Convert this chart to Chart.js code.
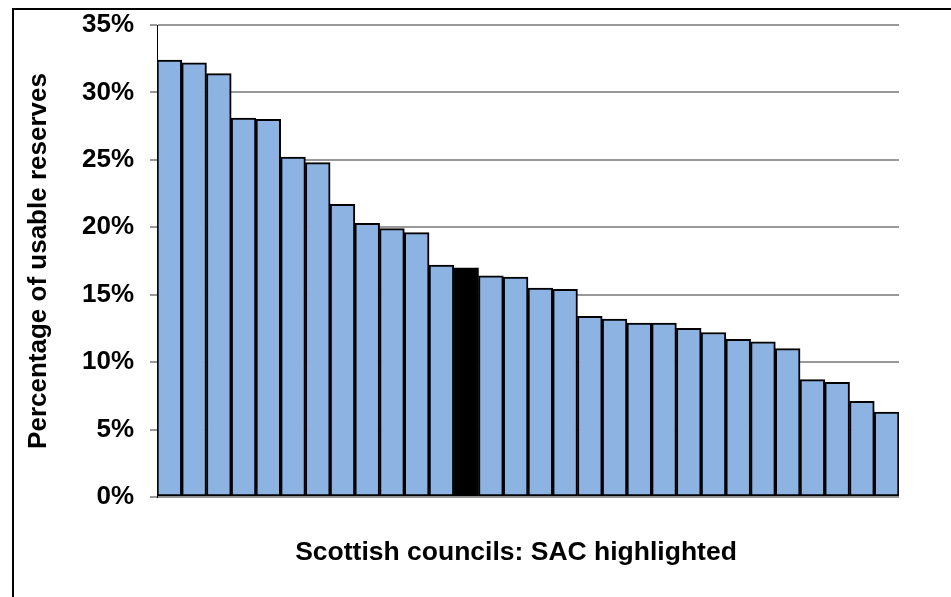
<!DOCTYPE html>
<html>
<head>
<meta charset="utf-8">
<script src="https://cdn.jsdelivr.net/npm/chart.js@4.4.1/dist/chart.umd.min.js"></script>
<style>
  html, body { margin: 0; padding: 0; background: #fff; }
  canvas { display: block; }
</style>
</head>
<body>
<canvas id="myChart" width="951" height="597"></canvas>
<script>
// data
const councils = [
  "C1", "C2", "C3", "C4", "C5", "C6", "C7", "C8", "C9", "C10",
  "C11", "C12", "SAC", "C14", "C15", "C16", "C17", "C18", "C19", "C20",
  "C21", "C22", "C23", "C24", "C25", "C26", "C27", "C28", "C29", "C30",
];
const reserves = [
  32.4, 32.2, 31.4, 28.1, 28.0, 25.2, 24.8, 21.7, 20.3, 19.9,
  19.6, 17.2, 17.0, 16.4, 16.3, 15.5, 15.4, 13.4, 13.2, 12.9,
  12.9, 12.5, 12.2, 11.7, 11.5, 11.0, 8.7, 8.5, 7.1, 6.3,
];
const highlighted = "SAC";
const yTicks = [0, 5, 10, 15, 20, 25, 30, 35];
const xTitle = "Scottish councils: SAC highlighted";

const FONT = "'Liberation Sans', Arial, sans-serif";

// frame lines on top/left edge like the original export
const framePlugin = {
  id: "frame",
  beforeDraw(chart) {
    const ctx = chart.ctx;
    ctx.save();
    ctx.fillStyle = "#fff";
    ctx.fillRect(0, 0, chart.width, chart.height);
    ctx.strokeStyle = "#000";
    ctx.lineWidth = 2;
    ctx.beginPath();
    ctx.moveTo(13, chart.height);
    ctx.lineTo(13, 9);
    ctx.lineTo(chart.width, 9);
    ctx.stroke();
    ctx.restore();
  },
  // x title sits a bit left of the plot centre in the original
  afterDraw(chart) {
    const ctx = chart.ctx;
    ctx.save();
    ctx.fillStyle = "#000";
    ctx.font = "bold 26.5px " + FONT;
    ctx.textAlign = "center";
    ctx.textBaseline = "middle";
    ctx.fillText(xTitle, 516, 553);
    ctx.restore();
  },
};

const config = {
  type: "bar",
  data: {
    labels: councils,
    datasets: [
      {
        label: "Usable reserves",
        data: reserves,
        backgroundColor: councils.map((c) => (c === highlighted ? "#000000" : "#8DB3E2")),
        borderColor: "#000000",
        borderWidth: 2,
        borderSkipped: false,
        barPercentage: 1,
        categoryPercentage: 1,
      },
    ],
  },
  options: {
    responsive: false,
    animation: false,
    layout: { padding: { top: 25, right: 52, left: 0, bottom: 0 } },
    plugins: {
      legend: { display: false },
      tooltip: { enabled: false },
    },
    scales: {
      x: {
        grid: { display: false },
        border: { display: false },
        ticks: { display: false },
        afterFit: (axis) => {
          axis.height = 100;
        },
      },
      y: {
        min: 0,
        max: 35,
        afterBuildTicks: (axis) => {
          axis.ticks = yTicks.map((v) => ({ value: v }));
        },
        grid: {
          color: "#999999",
          lineWidth: 2,
          tickLength: 7,
        },
        border: { display: true, color: "#000", width: 1 },
        ticks: {
          color: "#000",
          padding: 16,
          font: { family: FONT, size: 26, weight: "bold" },
          callback: (value) => value + "%",
        },
        title: {
          display: true,
          text: "Percentage of usable reserves",
          color: "#000",
          font: { family: FONT, size: 26, weight: "bold" },
          padding: { top: 23, bottom: 0 },
        },
        afterFit: (axis) => {
          axis.width = 157;
          axis.paddingTop = 0;
          axis.paddingBottom = 0;
        },
      },
    },
  },
  plugins: [framePlugin],
};

const myChart = new Chart(document.getElementById("myChart"), config);
</script>
</body>
</html>
